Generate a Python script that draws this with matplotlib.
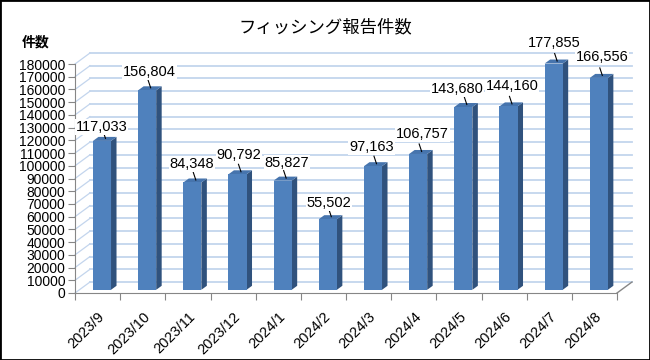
import matplotlib
matplotlib.use('Agg')
import matplotlib.pyplot as plt
from matplotlib.patches import Polygon, Rectangle

plt.rcParams['font.family'] = ['Liberation Sans', 'Noto Sans CJK JP', 'DejaVu Sans']

# データ
months = ['2023/9', '2023/10', '2023/11', '2023/12', '2024/1', '2024/2',
          '2024/3', '2024/4', '2024/5', '2024/6', '2024/7', '2024/8']
counts = [117033, 156804, 84348, 90792, 85827, 55502,
          97163, 106757, 143680, 144160, 177855, 166556]
y_ticks = list(range(0, 180001, 10000))
title = 'フィッシング報告件数'
y_label = '件数'

# ラベルの位置ずれ (px)
label_shift = [(-2, -4), (1, 0), (-2, 0), (0, 1), (3, 0), (0, -2),
               (-3, 1), (3, 2), (-8, 0), (2, 2), (-1, 3), (2, 3)]

# 画面上の寸法 (px)
W_PX, H_PX = 542, 229
YMAX = 180000
n = len(months)
cat_px = W_PX / n
val_px = H_PX / YMAX

def dx(p):
    return p / cat_px

def dy(p):
    return p / val_px

fig = plt.figure(figsize=(6.5, 3.6), dpi=100)
ax = fig.add_axes([75 / 650, 67 / 360, W_PX / 650, H_PX / 360])
ax.set_xlim(0, n)
ax.set_ylim(0, YMAX)
ax.patch.set_visible(False)

grid_c = '#c3d5ed'
axis_c = '#868686'
wall_dx, wall_dy = dx(15), dy(11)

# 奥の壁と左の壁のグリッド線
for v in y_ticks:
    ax.plot([wall_dx, n + wall_dx], [v + wall_dy, v + wall_dy], color=grid_c, lw=1.3, clip_on=False, zorder=1)
    ax.plot([0, wall_dx], [v, v + wall_dy], color=grid_c, lw=0.9, clip_on=False, zorder=1)
ax.plot([n, n + wall_dx], [0, wall_dy], color=axis_c, lw=1, clip_on=False, zorder=1)

# 3D風の棒
front_c, side_c, top_c = '#4f81bd', '#30527d', '#4674ad'
sx, sy = dx(4.4), dy(3.2)     # 棒の奥行き位置
bx, by = dx(5.5), dy(4.0)     # 棒の奥行き
bw = 0.4
for i, v in enumerate(counts):
    x0 = i + 0.5 - bw / 2 + sx
    y0 = sy
    x1 = x0 + bw
    y1 = v + sy
    side = Polygon([(x1, y0), (x1 + bx, y0 + by), (x1 + bx, y1 + by), (x1, y1)],
                   closed=True, fc=side_c, ec='none', clip_on=False, zorder=3)
    top = Polygon([(x0, y1), (x1, y1), (x1 + bx, y1 + by), (x0 + bx, y1 + by)],
                  closed=True, fc=top_c, ec='none', clip_on=False, zorder=3)
    front = Rectangle((x0, y0), bw, v, fc=front_c, ec='none', clip_on=False, zorder=3)
    ax.add_patch(side)
    ax.add_patch(top)
    ax.add_patch(front)

    cx = i + 0.5 + sx + dx(2.5)
    lx, ly = label_shift[i]
    ax.plot([cx - dx(1.5), cx + dx(1.0)], [y1 + dy(10), y1 + dy(2.5)],
            color='black', lw=0.8, clip_on=False, zorder=4)
    ax.text(cx - dx(1) + dx(lx), y1 + dy(18 + ly), f'{v:,}', ha='center', va='center',
            fontsize=10.5, bbox=dict(fc='white', ec='none', pad=0.5), zorder=5, clip_on=False)

# 軸
for s in ['top', 'right']:
    ax.spines[s].set_visible(False)
for s in ['left', 'bottom']:
    ax.spines[s].set_color(axis_c)
ax.set_yticks(y_ticks)
ax.set_yticklabels([str(t) for t in y_ticks], fontsize=10)
ax.tick_params(axis='y', colors=axis_c, labelcolor='black', length=5, pad=2)
ax.set_xticks(range(n + 1))
ax.set_xticklabels([])
ax.set_xticks([i + 0.5 for i in range(n)], minor=True)
ax.set_xticklabels(months, minor=True, rotation=45, ha='right', rotation_mode='anchor', fontsize=10.5)
ax.tick_params(axis='x', which='major', colors=axis_c, length=5)
ax.tick_params(axis='x', which='minor', length=0, pad=12)

fig.text(325 / 650, 1 - 27 / 360, title, ha='center', va='center', fontsize=12.5,
         family=['Noto Sans CJK JP'])
fig.text(22 / 650, 1 - 42 / 360, y_label, ha='left', va='center', fontsize=10,
         fontweight='bold', family=['Noto Sans CJK JP'])

fig.patches.append(Rectangle((0, 0), 1, 1, transform=fig.transFigure, fill=False,
                             ec='black', lw=2))

fig.savefig('out.png', dpi=100)
